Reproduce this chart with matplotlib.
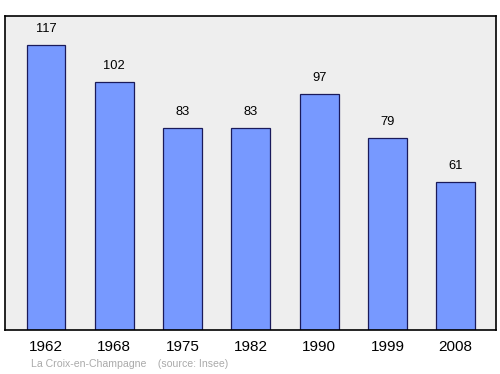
import matplotlib.pyplot as plt

plt.rcParams['font.family'] = ['Liberation Sans', 'DejaVu Sans']

years = ['1962', '1968', '1975', '1982', '1990', '1999', '2008']
population = [117, 102, 83, 83, 97, 79, 61]

fig = plt.figure(figsize=(5, 3.74), dpi=100)
ax = fig.add_axes([5 / 500, 1 - 330 / 374, 491 / 500, 314 / 374])
ax.set_facecolor('#eeeeee')

x = range(len(years))
ax.bar(x, population, width=0.57, color='#7799ff', edgecolor='#1a1a5a', linewidth=0.9)
for xi, v in zip(x, population):
    ax.annotate(str(v), (xi, v), xytext=(0, 7), textcoords='offset points',
                ha='center', va='bottom', fontsize=9.3)

ax.set_xlim(-0.6, 6.59)
ax.set_ylim(0, 129)
ax.set_yticks([])
ax.set_xticks(list(x))
ax.set_xticklabels(years, fontsize=11)
ax.tick_params(axis='x', length=0, pad=7)
for s in ax.spines.values():
    s.set_linewidth(1.2)

fig.text(31 / 500, 1 - 364 / 374, 'La Croix-en-Champagne    (source: Insee)',
         fontsize=7.6, color='#aaaaaa', va='center')

fig.savefig('out.png', dpi=100)
